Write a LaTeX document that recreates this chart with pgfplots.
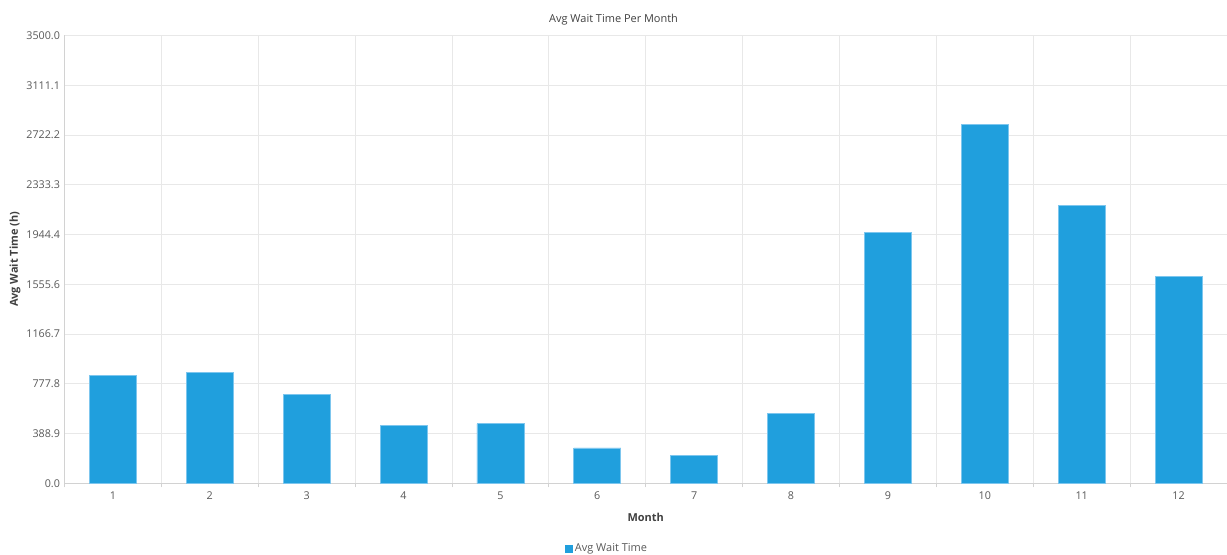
\documentclass[border=0pt]{standalone}
\usepackage{fontspec}
\setmainfont{Open Sans}
\usepackage{pgfplots}
\pgfplotsset{compat=1.18}
\definecolor{barblue}{HTML}{209FDD}
\definecolor{baredge}{HTML}{7DC6EE}
\definecolor{gridgray}{HTML}{E8E8E8}
\definecolor{axisgray}{HTML}{D2D2D2}
\definecolor{txt}{HTML}{595959}
\definecolor{dark}{HTML}{404040}
\begin{document}
\begin{tikzpicture}
\useasboundingbox (-64.5bp,-71.7bp) rectangle (1162.5bp,483.3bp);
\begin{axis}[
  at={(0,0)}, anchor=south west,
  scale only axis, width=1162.5bp, height=447.8bp,
  xmin=0.5, xmax=12.5, ymin=0, ymax=3500,
  axis x line*=bottom, axis y line*=left,
  axis line style={axisgray, line width=1bp, -},
  xtick={1,...,12},
  minor xtick={0.5,1.5,...,12.5},
  major tick length=0pt, minor tick length=4bp, tick align=outside,
  minor tick style={axisgray, line width=1bp},
  xminorgrids=true, ymajorgrids=true,
  grid style={gridgray, line width=1bp},
  minor grid style={gridgray, line width=1bp},
  ytick={0,388.889,777.778,1166.667,1555.556,1944.444,2333.333,2722.222,3111.111,3500},
  yticklabels={0.0,388.9,777.8,1166.7,1555.6,1944.4,2333.3,2722.2,3111.1,3500.0},
  /pgf/number format/assume math mode=true,
  tick label style={font=\fontsize{10.8}{12}\selectfont, text=txt},
  xticklabel style={yshift=-4.5bp},
  yticklabel style={xshift=-1bp},
  title={Avg Wait Time Per Month},
  title style={at={(axis description cs:0.4723,1)}, anchor=center, yshift=9.5bp,
    font=\fontsize{11}{12}\selectfont, text=dark},
  xlabel={Month},
  xlabel style={at={(axis description cs:0.5,0)}, anchor=center, yshift=-33.7bp,
    font=\fontsize{11}{12}\selectfont\bfseries, text=dark},
  ylabel={Avg Wait Time (h)},
  ylabel style={at={(axis description cs:-0.04258,0.5)}, anchor=center,
    font=\fontsize{11}{12}\selectfont\bfseries, text=dark},
  legend style={at={(axis description cs:0.4667,0)}, anchor=center, yshift=-65.2bp,
    draw=none, fill=none, font=\fontsize{11}{12}\selectfont, text=txt},
  ybar, bar width=47bp,
  legend image code/.code={\fill[barblue] (-2bp,-3.5bp) rectangle (5bp,3.5bp);},
]
\addplot[fill=barblue, draw=baredge, line width=0.8bp] coordinates {
  (1,845) (2,866) (3,697) (4,450) (5,465) (6,276)
  (7,219) (8,546) (9,1962) (10,2805) (11,2170) (12,1618)
};
\addlegendentry{Avg Wait Time}
\end{axis}
\end{tikzpicture}
\end{document}
